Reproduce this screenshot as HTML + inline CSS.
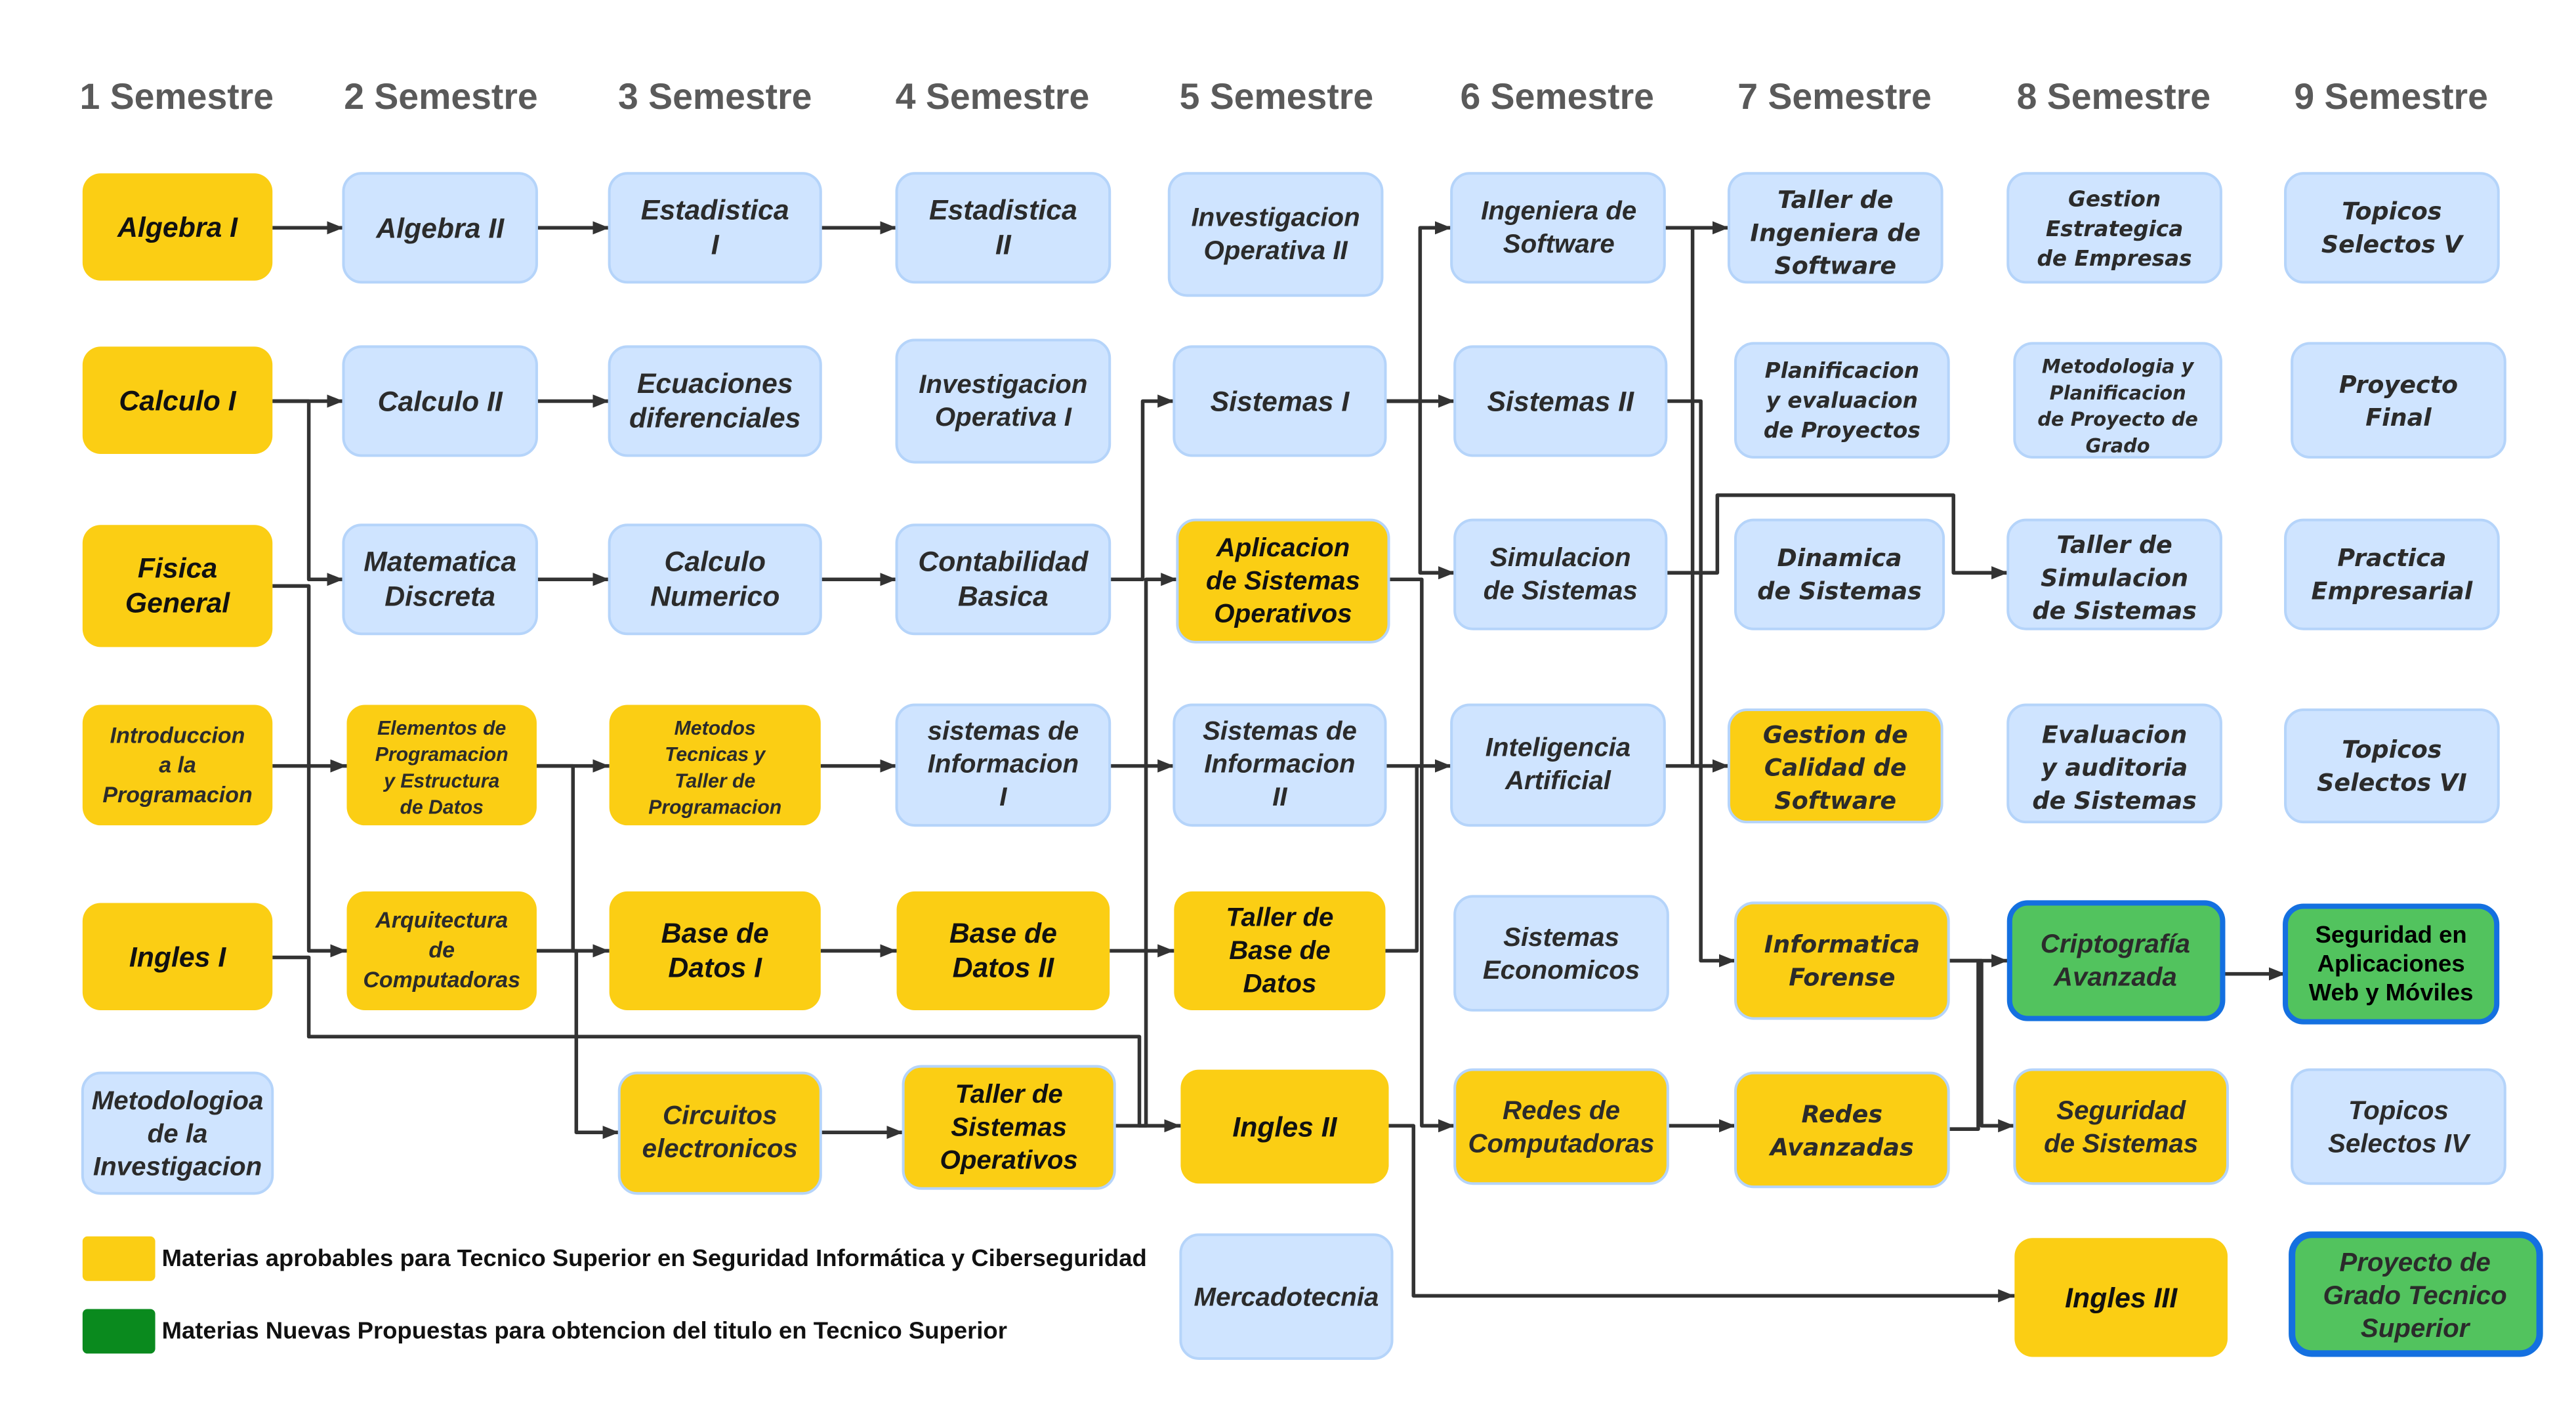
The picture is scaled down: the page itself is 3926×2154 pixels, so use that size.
<!DOCTYPE html>
<html><head><meta charset="utf-8"><style>
html,body{margin:0;padding:0;background:#fff;width:3926px;height:2154px;overflow:hidden}
svg{display:block}
.h{font-family:"Liberation Sans",sans-serif;font-weight:bold;font-size:22px;fill:#5a5a5a;text-anchor:middle}
.t{font-family:"Liberation Sans",sans-serif;font-weight:bold;font-style:italic;text-anchor:middle;fill:#2b2b2b}
.d{font-family:"DejaVu Sans",sans-serif;font-weight:bold;font-style:italic;text-anchor:middle;fill:#2b2b2b}
.y{fill:#FBCE14}
.b{fill:#CFE4FF;stroke:#B5D4FA;stroke-width:1.6}
.yb{fill:#FBCE14;stroke:#B5D4FA;stroke-width:1.6}
.g{fill:#52C35E;stroke:#1470E0;stroke-width:3.2}
.c{fill:none;stroke:#333;stroke-width:2.2;stroke-linejoin:round}
</style></head><body>
<svg width="3926" height="2154" viewBox="0 0 1560 856" preserveAspectRatio="none" xmlns="http://www.w3.org/2000/svg">
<defs><marker id="a" viewBox="0 0 10 8" refX="10" refY="4" markerWidth="10" markerHeight="8" markerUnits="userSpaceOnUse" orient="auto"><path d="M0,0 L10,4 L0,8 z" fill="#333"/></marker></defs>

<g class="h">
<text x="107" y="66">1 Semestre</text><text x="267" y="66">2 Semestre</text><text x="433" y="66">3 Semestre</text>
<text x="601" y="66">4 Semestre</text><text x="773" y="66">5 Semestre</text><text x="943" y="66">6 Semestre</text>
<text x="1111" y="66">7 Semestre</text><text x="1280" y="66">8 Semestre</text><text x="1448" y="66">9 Semestre</text>
</g>

<!-- connectors -->
<g class="c">
<path d="M165,138H208" marker-end="url(#a)"/>
<path d="M325,138H369" marker-end="url(#a)"/>
<path d="M497,138H543" marker-end="url(#a)"/>
<path d="M165,243H208" marker-end="url(#a)"/>
<path d="M165,243H187V351H208" marker-end="url(#a)"/>
<path d="M325,243H369" marker-end="url(#a)"/>
<path d="M165,355H187V576H210" marker-end="url(#a)"/>
<path d="M165,580H187V628H690V682H715" marker-end="url(#a)"/>
<path d="M165,464H210" marker-end="url(#a)"/>
<path d="M325,351H369" marker-end="url(#a)"/>
<path d="M497,351H543" marker-end="url(#a)"/>
<path d="M672,351H692V243H711" marker-end="url(#a)"/>
<path d="M325,464H369" marker-end="url(#a)"/>
<path d="M325,464H347V576H369" marker-end="url(#a)"/>
<path d="M325,576H349V686H375" marker-end="url(#a)"/>
<path d="M497,464H543" marker-end="url(#a)"/>
<path d="M672,464H711" marker-end="url(#a)"/>
<path d="M497,576H543" marker-end="url(#a)"/>
<path d="M672,576H711" marker-end="url(#a)"/>
<path d="M497,686H547" marker-end="url(#a)"/>
<path d="M675,682H694V351H713" marker-end="url(#a)"/>
<path d="M839,243H860V138H879" marker-end="url(#a)"/>
<path d="M839,243H881" marker-end="url(#a)"/>
<path d="M839,243H860V347H881" marker-end="url(#a)"/>
<path d="M841,351H861V682H881" marker-end="url(#a)"/>
<path d="M839,464H879" marker-end="url(#a)"/>
<path d="M839,576H858V464"/>
<path d="M841,682H856V785H1220" marker-end="url(#a)"/>
<path d="M1008,138H1047" marker-end="url(#a)"/>
<path d="M1008,138H1025V464H1047" marker-end="url(#a)"/>
<path d="M1009,243H1030V582H1051" marker-end="url(#a)"/>
<path d="M1009,347H1040V300H1183V347H1216" marker-end="url(#a)"/>
<path d="M1008,464H1047" marker-end="url(#a)"/>
<path d="M1010,682H1051" marker-end="url(#a)"/>
<path d="M1180,582H1216" marker-end="url(#a)"/>
<path d="M1180,582H1200V682H1220" marker-end="url(#a)"/>
<path d="M1180,684H1198V582"/>
<path d="M1346,590H1384" marker-end="url(#a)"/>
</g>

<!-- boxes -->
<rect class="y" x="50" y="105" width="115" height="65" rx="11"/>
<rect class="y" x="50" y="210" width="115" height="65" rx="11"/>
<rect class="y" x="50" y="318" width="115" height="74" rx="11"/>
<rect class="y" x="50" y="427" width="115" height="73" rx="11"/>
<rect class="y" x="50" y="547" width="115" height="65" rx="11"/>
<rect class="b" x="50" y="650" width="115" height="73" rx="11"/>

<rect class="b" x="208" y="105" width="117" height="66" rx="11"/>
<rect class="b" x="208" y="210" width="117" height="66" rx="11"/>
<rect class="b" x="208" y="318" width="117" height="66" rx="11"/>
<rect class="y" x="210" y="427" width="115" height="73" rx="11"/>
<rect class="y" x="210" y="540" width="115" height="72" rx="11"/>

<rect class="b" x="369" y="105" width="128" height="66" rx="11"/>
<rect class="b" x="369" y="210" width="128" height="66" rx="11"/>
<rect class="b" x="369" y="318" width="128" height="66" rx="11"/>
<rect class="y" x="369" y="427" width="128" height="73" rx="11"/>
<rect class="y" x="369" y="540" width="128" height="72" rx="11"/>
<rect class="yb" x="375" y="650" width="122" height="73" rx="11"/>

<rect class="b" x="543" y="105" width="129" height="66" rx="11"/>
<rect class="b" x="543" y="206" width="129" height="74" rx="11"/>
<rect class="b" x="543" y="318" width="129" height="66" rx="11"/>
<rect class="b" x="543" y="427" width="129" height="73" rx="11"/>
<rect class="y" x="543" y="540" width="129" height="72" rx="11"/>
<rect class="yb" x="547" y="646" width="128" height="74" rx="11"/>

<rect class="b" x="708" y="105" width="129" height="74" rx="11"/>
<rect class="b" x="711" y="210" width="128" height="66" rx="11"/>
<rect class="yb" x="713" y="315" width="128" height="74" rx="11"/>
<rect class="b" x="711" y="427" width="128" height="73" rx="11"/>
<rect class="y" x="711" y="540" width="128" height="72" rx="11"/>
<rect class="y" x="715" y="648" width="126" height="69" rx="11"/>
<rect class="b" x="715" y="748" width="128" height="75" rx="11"/>

<rect class="b" x="879" y="105" width="129" height="66" rx="11"/>
<rect class="b" x="881" y="210" width="128" height="66" rx="11"/>
<rect class="b" x="881" y="315" width="128" height="66" rx="11"/>
<rect class="b" x="879" y="427" width="129" height="73" rx="11"/>
<rect class="b" x="881" y="543" width="129" height="69" rx="11"/>
<rect class="yb" x="881" y="648" width="129" height="69" rx="11"/>

<rect class="b" x="1047" y="105" width="129" height="66" rx="11"/>
<rect class="b" x="1051" y="208" width="129" height="69" rx="11"/>
<rect class="b" x="1051" y="315" width="126" height="66" rx="11"/>
<rect class="yb" x="1047" y="430" width="129" height="68" rx="11"/>
<rect class="yb" x="1051" y="547" width="129" height="70" rx="11"/>
<rect class="yb" x="1051" y="650" width="129" height="69" rx="11"/>

<rect class="b" x="1216" y="105" width="129" height="66" rx="11"/>
<rect class="b" x="1220" y="208" width="125" height="69" rx="11"/>
<rect class="b" x="1216" y="315" width="129" height="66" rx="11"/>
<rect class="b" x="1216" y="427" width="129" height="71" rx="11"/>
<rect class="g" x="1217" y="547" width="129" height="70" rx="11"/>
<rect class="yb" x="1220" y="648" width="129" height="69" rx="11"/>
<rect class="y" x="1220" y="750" width="129" height="72" rx="11"/>

<rect class="b" x="1384" y="105" width="129" height="66" rx="11"/>
<rect class="b" x="1388" y="208" width="129" height="69" rx="11"/>
<rect class="b" x="1384" y="315" width="129" height="66" rx="11"/>
<rect class="b" x="1384" y="430" width="129" height="68" rx="11"/>
<rect class="g" x="1384" y="549" width="128" height="70" rx="11"/>
<rect class="b" x="1388" y="648" width="129" height="69" rx="11"/>
<rect class="g" x="1388" y="748" width="150" height="72" rx="12" style="stroke-width:4"/>

<!-- legend -->
<rect x="50" y="749" width="44" height="27" rx="3" fill="#FBCE14"/>
<rect x="50" y="793" width="44" height="27" rx="3" fill="#0A8A1E"/>
<text x="98" y="767" style="font-family:'Liberation Sans',sans-serif;font-weight:bold;font-size:14.5px;fill:#111">Materias aprobables para Tecnico Superior en Seguridad Informática y Ciberseguridad</text>
<text x="98" y="811" style="font-family:'Liberation Sans',sans-serif;font-weight:bold;font-size:14.5px;fill:#111">Materias Nuevas Propuestas para obtencion del titulo en Tecnico Superior</text>

<!-- labels -->
<g class="t" font-size="17">
<text x="107.5" y="143.5" fill="#111">Algebra I</text>
<text x="107.5" y="248.5" fill="#111">Calculo I</text>
<text x="107.5" y="350" fill="#111">Fisica<tspan x="107.5" dy="21">General</tspan></text>
<text x="107.5" y="585.5" fill="#111">Ingles I</text>
<text x="266.5" y="144">Algebra II</text>
<text x="266.5" y="249">Calculo II</text>
<text x="266.5" y="346">Matematica<tspan x="266.5" dy="21">Discreta</tspan></text>
<text x="433" y="133">Estadistica<tspan x="433" dy="21">I</tspan></text>
<text x="433" y="238">Ecuaciones<tspan x="433" dy="21">diferenciales</tspan></text>
<text x="433" y="346">Calculo<tspan x="433" dy="21">Numerico</tspan></text>
<text x="433" y="571" fill="#111">Base de<tspan x="433" dy="21">Datos I</tspan></text>
<text x="607.5" y="133">Estadistica<tspan x="607.5" dy="21">II</tspan></text>
<text x="607.5" y="346">Contabilidad<tspan x="607.5" dy="21">Basica</tspan></text>
<text x="607.5" y="571" fill="#111">Base de<tspan x="607.5" dy="21">Datos II</tspan></text>
<text x="775" y="249">Sistemas I</text>
<text x="778" y="688.5" fill="#111">Ingles II</text>
<text x="945" y="249">Sistemas II</text>
<text x="1284.5" y="792" fill="#111">Ingles III</text>
</g>
<g class="t" font-size="16">
<text x="107.5" y="672">Metodologioa<tspan x="107.5" dy="20">de la</tspan><tspan x="107.5" dy="20">Investigacion</tspan></text>
<text x="436" y="681">Circuitos<tspan x="436" dy="20">electronicos</tspan></text>
<text x="607.5" y="238">Investigacion<tspan x="607.5" dy="20">Operativa I</tspan></text>
<text x="607.5" y="448">sistemas de<tspan x="607.5" dy="20">Informacion</tspan><tspan x="607.5" dy="20">I</tspan></text>
<text x="611" y="668" fill="#111">Taller de<tspan x="611" dy="20">Sistemas</tspan><tspan x="611" dy="20">Operativos</tspan></text>
<text x="772.5" y="137">Investigacion<tspan x="772.5" dy="20">Operativa II</tspan></text>
<text x="777" y="337" fill="#111">Aplicacion<tspan x="777" dy="20">de Sistemas</tspan><tspan x="777" dy="20">Operativos</tspan></text>
<text x="775" y="448">Sistemas de<tspan x="775" dy="20">Informacion</tspan><tspan x="775" dy="20">II</tspan></text>
<text x="775" y="561" fill="#111">Taller de<tspan x="775" dy="20">Base de</tspan><tspan x="775" dy="20">Datos</tspan></text>
<text x="779" y="791">Mercadotecnia</text>
<text x="944" y="133">Ingeniera de<tspan x="944" dy="20">Software</tspan></text>
<text x="945" y="343">Simulacion<tspan x="945" dy="20">de Sistemas</tspan></text>
<text x="943.5" y="458">Inteligencia<tspan x="943.5" dy="20">Artificial</tspan></text>
<text x="945.5" y="573">Sistemas<tspan x="945.5" dy="20">Economicos</tspan></text>
<text x="945.5" y="678">Redes de<tspan x="945.5" dy="20">Computadoras</tspan></text>
<text x="1281" y="577">Criptografía<tspan x="1281" dy="20">Avanzada</tspan></text>
<text x="1284.5" y="678">Seguridad<tspan x="1284.5" dy="20">de Sistemas</tspan></text>
<text x="1452.5" y="678">Topicos<tspan x="1452.5" dy="20">Selectos IV</tspan></text>
<text x="1462.5" y="770">Proyecto de<tspan x="1462.5" dy="20">Grado Tecnico</tspan><tspan x="1462.5" dy="20">Superior</tspan></text>
</g>
<g class="t" font-size="13.5" fill="#111">
<text x="107.5" y="450">Introduccion<tspan x="107.5" dy="18">a la</tspan><tspan x="107.5" dy="18">Programacion</tspan></text>
<text x="267.5" y="562">Arquitectura<tspan x="267.5" dy="18">de</tspan><tspan x="267.5" dy="18">Computadoras</tspan></text>
</g>
<g class="t" font-size="12" fill="#111">
<text x="267.5" y="445">Elementos de<tspan x="267.5" dy="16">Programacion</tspan><tspan x="267.5" dy="16">y Estructura</tspan><tspan x="267.5" dy="16">de Datos</tspan></text>
<text x="433" y="445">Metodos<tspan x="433" dy="16">Tecnicas y</tspan><tspan x="433" dy="16">Taller de</tspan><tspan x="433" dy="16">Programacion</tspan></text>
</g>
<g class="d" font-size="14.5">
<text x="1111.5" y="126">Taller de<tspan x="1111.5" dy="20">Ingeniera de</tspan><tspan x="1111.5" dy="20">Software</tspan></text>
<text x="1114" y="343">Dinamica<tspan x="1114" dy="20">de Sistemas</tspan></text>
<text x="1111.5" y="450">Gestion de<tspan x="1111.5" dy="20">Calidad de</tspan><tspan x="1111.5" dy="20">Software</tspan></text>
<text x="1115.5" y="577">Informatica<tspan x="1115.5" dy="20">Forense</tspan></text>
<text x="1115.5" y="680">Redes<tspan x="1115.5" dy="20">Avanzadas</tspan></text>
<text x="1280.5" y="335">Taller de<tspan x="1280.5" dy="20">Simulacion</tspan><tspan x="1280.5" dy="20">de Sistemas</tspan></text>
<text x="1280.5" y="450">Evaluacion<tspan x="1280.5" dy="20">y auditoria</tspan><tspan x="1280.5" dy="20">de Sistemas</tspan></text>
<text x="1448.5" y="133">Topicos<tspan x="1448.5" dy="20">Selectos V</tspan></text>
<text x="1452.5" y="238">Proyecto<tspan x="1452.5" dy="20">Final</tspan></text>
<text x="1448.5" y="343">Practica<tspan x="1448.5" dy="20">Empresarial</tspan></text>
<text x="1448.5" y="459">Topicos<tspan x="1448.5" dy="20">Selectos VI</tspan></text>
</g>
<g class="d" font-size="13">
<text x="1115.5" y="229">Planificacion<tspan x="1115.5" dy="18">y evaluacion</tspan><tspan x="1115.5" dy="18">de Proyectos</tspan></text>
<text x="1280.5" y="125">Gestion<tspan x="1280.5" dy="18">Estrategica</tspan><tspan x="1280.5" dy="18">de Empresas</tspan></text>
</g>
<g class="d" font-size="11.5">
<text x="1282.5" y="226">Metodologia y<tspan x="1282.5" dy="16">Planificacion</tspan><tspan x="1282.5" dy="16">de Proyecto de</tspan><tspan x="1282.5" dy="16">Grado</tspan></text>
</g>
<text x="1448" y="571" style="font-family:'Liberation Sans',sans-serif;font-weight:bold;font-size:14.5px;fill:#000;text-anchor:middle">Seguridad en<tspan x="1448" dy="17.5">Aplicaciones</tspan><tspan x="1448" dy="17.5">Web y Móviles</tspan></text>
</svg>
</body></html>
